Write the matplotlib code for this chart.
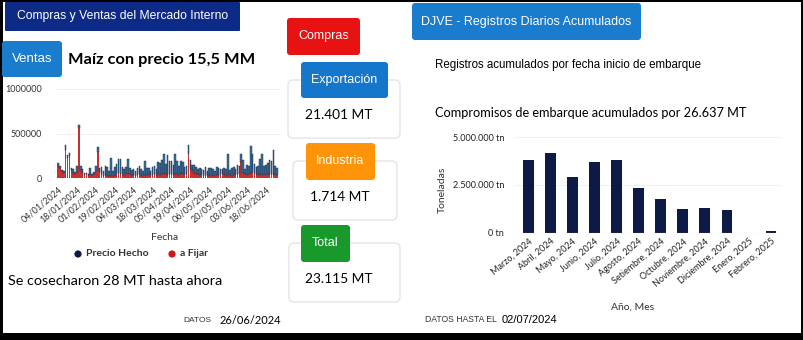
import matplotlib.pyplot as plt
from matplotlib.patches import FancyBboxPatch, Rectangle, Circle
from matplotlib.ticker import FuncFormatter

# Ventas diarias (miles de t), un valor por dia habil desde 04/01/2024
a_fijar = [140, 110, 80, 60, 310, 230, 250, 90, 60, 40,
           70, 560, 90, 60, 30, 40, 20, 50, 30, 40,
           80, 290, 70, 40, 20, 30, 30, 20, 25, 20,
           30, 40, 60, 50, 40, 30, 60, 50, 40, 30,
           30, 20, 30, 40, 30, 20, 30, 30, 40, 20,
           30, 40, 20, 60, 30, 40, 60, 40, 30, 40,
           40, 30, 50, 40, 30, 60, 40, 30, 40, 270,
           100, 90, 60, 50, 40, 30, 40, 20, 30, 20,
           30, 20, 30, 20, 40, 20, 30, 60, 40, 20,
           40, 30, 20, 40, 30, 50, 40, 180, 60, 40,
           30, 40, 60, 70, 50, 40, 30, 40, 30, 40,
           30, 40, 30, 50, 30, 40, 30]
precio_hecho = [30, 20, 15, 20, 60, 30, 30, 20, 40, 30,
                60, 40, 50, 40, 30, 20, 30, 60, 20, 30,
                60, 60, 40, 80, 60, 110, 90, 60, 205, 60,
                90, 120, 150, 160, 80, 70, 60, 160, 70, 60,
                70, 60, 80, 90, 70, 60, 160, 80, 70, 60,
                90, 100, 80, 120, 140, 160, 210, 120, 230, 150,
                150, 120, 220, 150, 110, 130, 140, 90, 100, 100,
                100, 60, 90, 70, 60, 80, 60, 70, 90, 60,
                80, 90, 70, 60, 80, 90, 70, 40, 70, 80,
                230, 60, 90, 80, 70, 100, 90, 90, 140, 60,
                120, 100, 300, 200, 110, 80, 100, 170, 240, 100,
                120, 130, 170, 140, 280, 90, 80]
fechas_ticks = ["04/01/2024", "18/01/2024", "01/02/2024", "19/02/2024", "04/03/2024",
                "18/03/2024", "05/04/2024", "19/04/2024", "06/05/2024", "20/05/2024",
                "03/06/2024", "18/06/2024"]

# DJVE acumulado por mes de embarque (t)
meses = ["Marzo, 2024", "Abril, 2024", "Mayo, 2024", "Junio, 2024", "Julio, 2024",
         "Agosto, 2024", "Setiembre, 2024", "Octubre, 2024", "Noviembre, 2024",
         "Diciembre, 2024", "Enero, 2025", "Febrero, 2025"]
toneladas = [3810000, 4190000, 2940000, 3690000, 3810000, 2340000, 1750000,
             1230000, 1290000, 1190000, 0, 90000]

W, H = 804, 340
fig = plt.figure(figsize=(W / 100, H / 100), dpi=100)
bg = fig.add_axes([0, 0, 1, 1])
bg.set_xlim(0, W)
bg.set_ylim(H, 0)
bg.axis("off")

SANS = "Liberation Sans"
CAL = "Lato"


def caja(x, y, w, h, color, texto, size, r=3):
    bg.add_patch(FancyBboxPatch((x, y), w, h, boxstyle=f"round,pad=0,rounding_size={r}",
                                fc=color, ec="none", zorder=3))
    bg.text(x + w / 2, y + h / 2, texto, color="white", fontsize=size, family=SANS,
            ha="center", va="center", zorder=4)


def tarjeta(x, y, w, h):
    bg.add_patch(FancyBboxPatch((x, y), w, h, boxstyle="round,pad=0,rounding_size=5",
                                fc="white", ec="#e4e4e4", lw=1, zorder=1))


# marco negro
bg.add_patch(Rectangle((0, 0), W, H, fc="black", ec="none", zorder=0))
bg.add_patch(Rectangle((3, 2), W - 6, H - 9, fc="white", ec="none", zorder=0))

# panel izquierdo
caja(5, 2, 235, 29, "#0c2a86", "Compras y Ventas del Mercado Interno", 8.7, r=1)
caja(2, 41, 60, 36, "#1a7ccc", "Ventas", 9.5)
bg.text(68, 60, "Maíz con precio 15,5 MM", fontsize=11.8, weight="bold", family=CAL,
        va="center", ha="left")

ax1 = fig.add_axes([57 / W, 1 - 178 / H, (280 - 57) / W, (178 - 89) / H])
x = list(range(len(a_fijar)))
fij = [v * 1000 for v in a_fijar]
hec = [v * 1000 for v in precio_hecho]
ax1.bar(x, fij, width=0.85, color="#c8322c", lw=0)
ax1.bar(x, hec, bottom=fij, width=0.85, color="#3f7398", edgecolor="#0f1f45", lw=0.3)
ax1.set_xlim(-0.6, 117.5)
ax1.set_ylim(0, 1000000)
ax1.set_yticks([0, 500000, 1000000])
ax1.yaxis.set_major_formatter(FuncFormatter(lambda v, p: f"{int(v)}"))
ax1.set_xticks(range(0, 10 * len(fechas_ticks), 10))
ax1.set_xticklabels(fechas_ticks, rotation=40, ha="right", rotation_mode="anchor")
ax1.tick_params(length=0, labelsize=6.5)
ax1.tick_params(axis="x", pad=5)
ax1.tick_params(axis="y", pad=11)
for lab in ax1.get_xticklabels() + ax1.get_yticklabels():
    lab.set_family(CAL)
    lab.set_color("#333333")
ax1.grid(axis="y", color="#eeeeee", lw=0.6)
ax1.set_axisbelow(True)
for s in ax1.spines.values():
    s.set_visible(False)

bg.text(165, 238, "Fecha", fontsize=7.5, family=CAL, ha="center", va="center", color="#333333")
bg.add_patch(Circle((78, 254), 3.6, fc="#0e1a40", ec="none"))
bg.text(86, 254, "Precio Hecho", fontsize=7.5, family=CAL, weight="bold", va="center",
        color="#333333")
bg.add_patch(Circle((172, 254), 3.6, fc="#d01818", ec="none"))
bg.text(180, 254, "a Fijar", fontsize=7.5, family=CAL, weight="bold", va="center",
        color="#333333")
bg.text(8, 281, "Se cosecharon 28 MT hasta ahora", fontsize=10.4, family=CAL, va="center")
bg.text(183, 321, "DATOS", fontsize=6, family=SANS, va="center", color="#333333")
bg.text(220, 321, "26/06/2024", fontsize=8, family=CAL, va="center")

# panel central
caja(287, 18, 73, 37, "#e81212", "Compras", 9)
tarjeta(288, 80, 112, 58)
caja(301, 62, 87, 36, "#1577cc", "Exportación", 9)
bg.text(305, 115, "21.401 MT", fontsize=9.9, family=CAL, va="center")
tarjeta(293, 161, 104, 59)
caja(306, 143, 69, 37, "#ff9409", "Industria", 9)
bg.text(310, 197, "1.714 MT", fontsize=9.9, family=CAL, va="center")
tarjeta(289, 243, 111, 59)
caja(301, 225, 49, 37, "#19992b", "Total", 9)
bg.text(305, 279, "23.115 MT", fontsize=9.9, family=CAL, va="center")

# panel derecho
caja(412, 3, 229, 37, "#1a7ccc", "DJVE - Registros Diarios Acumulados", 9)
bg.text(435, 65, "Registros acumulados por fecha inicio de embarque", fontsize=8.3,
        family=SANS, va="center")
bg.text(435, 113, "Compromisos de embarque acumulados por 26.637 MT", fontsize=9.2,
        family=CAL, va="center")

ax2 = fig.add_axes([515 / W, 1 - 232.7 / H, (782 - 515) / W, (232.7 - 137.3) / H])
ax2.bar(range(len(meses)), toneladas, width=0.48, color="#0d1a45")
ax2.set_xlim(-0.6, 11.5)
ax2.set_ylim(0, 5000000)
ax2.set_yticks([0, 2500000, 5000000])
ax2.yaxis.set_major_formatter(FuncFormatter(lambda v, p: f"{int(v):,}".replace(",", ".") + " tn"))
ax2.set_xticks(range(len(meses)))
ax2.set_xticklabels(meses, rotation=40, ha="right", rotation_mode="anchor")
ax2.tick_params(length=0, labelsize=6.5, pad=3)
ax2.tick_params(axis="y", pad=8)
for lab in ax2.get_xticklabels() + ax2.get_yticklabels():
    lab.set_family(CAL)
    lab.set_color("#222222")
ax2.grid(axis="y", color="#eeeeee", lw=0.6)
ax2.set_axisbelow(True)
for s in ax2.spines.values():
    s.set_visible(False)
ax2.axhline(0, color="#d0d0d0", lw=0.8)

bg.text(442, 190, "Toneladas", fontsize=7.5, family=CAL, rotation=90, ha="center",
        va="center", color="#333333")
bg.text(633, 307, "Año, Mes", fontsize=7.5, family=CAL, ha="center", va="center",
        color="#333333")
bg.text(425, 320, "DATOS HASTA EL", fontsize=6.2, family=SANS, va="center", color="#333333")
bg.text(502, 320, "02/07/2024", fontsize=8, family=SANS, va="center")

fig.savefig("out.png", dpi=100)
